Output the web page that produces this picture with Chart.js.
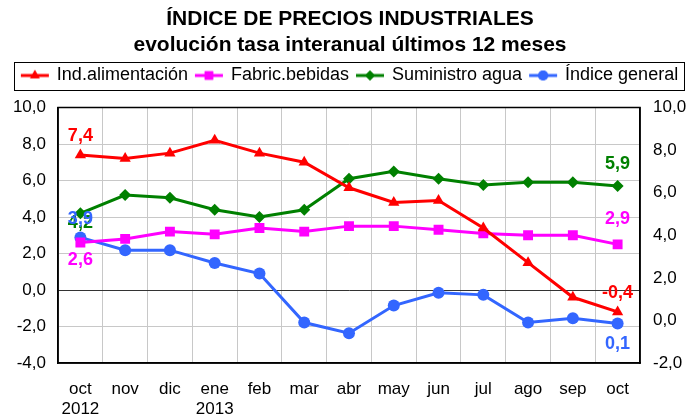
<!DOCTYPE html>
<html>
<head>
<meta charset="utf-8">
<script src="https://cdn.jsdelivr.net/npm/chart.js@4.4.0/dist/chart.umd.min.js"></script>
<style>
  html, body { margin: 0; padding: 0; background: #fff; }
  #wrap { width: 700px; height: 419px; }
</style>
</head>
<body>
<div id="wrap"><canvas id="ipri" width="700" height="419"></canvas></div>
<script>
const months = [['oct', '2012'], 'nov', 'dic', ['ene', '2013'], 'feb', 'mar', 'abr', 'may', 'jun', 'jul', 'ago', 'sep', 'oct'];
const seriesNames = ['Ind.alimentación', 'Fabric.bebidas', 'Suministro agua', 'Índice general'];
const alimentacion = [7.4, 7.2, 7.5, 8.2, 7.5, 7.0, 5.6, 4.8, 4.9, 3.4, 1.5, -0.4, -1.2];
const bebidas = [2.6, 2.8, 3.2, 3.05, 3.4, 3.2, 3.5, 3.5, 3.3, 3.1, 3.0, 3.0, 2.5];
const agua = [4.2, 5.2, 5.05, 4.4, 4.0, 4.4, 6.1, 6.5, 6.1, 5.75, 5.9, 5.9, 5.7];
const general = [3.9, 3.3, 3.3, 2.7, 2.2, -0.1, -0.6, 0.7, 1.3, 1.2, -0.1, 0.1, -0.15];
const firstLabels = ['7,4', '2,6', '4,2', '3,9'];
const lastLabels = ['-0,4', '2,9', '5,9', '0,1'];

const FONT = "'Liberation Sans', Arial, sans-serif";
const colors = ['#ff0000', '#ff00ff', '#008000', '#3366ff'];
const styles = ['triangle', 'rect', 'rectRot', 'circle'];
const radii = [6.5, 7, 6, 6];

// little line+marker pictures for the legend
function legendIcon(i) {
    const c = document.createElement('canvas');
    c.width = 30; c.height = 16;
    const g = c.getContext('2d');
    g.strokeStyle = colors[i];
    g.lineWidth = 3;
    g.beginPath(); g.moveTo(1, 8); g.lineTo(29, 8); g.stroke();
    g.fillStyle = colors[i];
    Chart.helpers.drawPoint(g, { pointStyle: styles[i], radius: radii[i] - 1, rotation: 0, borderWidth: 0 }, 15, 8);
    g.fill();
    return c;
}

// y offsets of the value labels (first point, last point)
const labelOffsets = [[-19, -19], [17, -25], [10, -22], [-18, 20]];

const valueLabels = {
    id: 'valueLabels',
    afterDatasetsDraw(chart) {
        const ctx = chart.ctx;
        ctx.save();
        ctx.font = 'bold 18px ' + FONT;
        ctx.textAlign = 'center';
        ctx.textBaseline = 'middle';
        chart.data.datasets.forEach((ds, i) => {
            const pts = chart.getDatasetMeta(i).data;
            const first = pts[0], last = pts[pts.length - 1];
            ctx.fillStyle = colors[i];
            ctx.fillText(firstLabels[i], first.x, first.y + labelOffsets[i][0]);
            ctx.fillText(lastLabels[i], last.x, last.y + labelOffsets[i][1]);
        });
        ctx.restore();
    }
};

const frame = {
    id: 'frame',
    beforeInit(chart) {
        // leave more room under the legend box
        const fit = chart.legend.fit;
        chart.legend.fit = function () {
            fit.call(this);
            this.height += 13;
        };
    },
    beforeDatasetsDraw(chart) {
        const a = chart.chartArea, ctx = chart.ctx;
        ctx.save();
        ctx.strokeStyle = '#000';
        ctx.lineWidth = 1.5;
        ctx.strokeRect(a.left, a.top, a.right - a.left, a.bottom - a.top);
        ctx.restore();
    },
    afterDraw(chart) {
        const boxes = chart.legend.legendHitBoxes;
        if (!boxes || !boxes.length) return;
        const left = Math.min(...boxes.map(b => b.left)) - 8;
        const right = Math.max(...boxes.map(b => b.left + b.width)) + 6;
        const top = boxes[0].top - 5;
        const h = boxes[0].height + 10;
        const ctx = chart.ctx;
        ctx.save();
        ctx.strokeStyle = '#000';
        ctx.lineWidth = 1;
        ctx.strokeRect(Math.round(left) + 0.5, Math.round(top) + 0.5, Math.round(right - left), Math.round(h));
        ctx.restore();
    }
};

const fmt = v => v.toFixed(1).replace('.', ',');

new Chart(document.getElementById('ipri'), {
    type: 'line',
    data: {
        labels: months,
        datasets: [alimentacion, bebidas, agua, general].map((d, i) => ({
            label: seriesNames[i],
            data: d,
            yAxisID: i === 3 ? 'y2' : 'y',
            borderColor: colors[i],
            backgroundColor: colors[i],
            borderWidth: 3,
            pointStyle: styles[i],
            pointRadius: radii[i],
            pointBorderWidth: 0,
            tension: 0
        }))
    },
    options: {
        responsive: false,
        animation: false,
        layout: { padding: { top: 0, bottom: 0, left: 0, right: 0 } },
        plugins: {
            title: {
                display: true,
                text: ['ÍNDICE DE PRECIOS INDUSTRIALES', 'evolución tasa interanual últimos 12 meses'],
                color: '#000',
                font: { family: FONT, size: 21, weight: 'bold', lineHeight: 1.25 },
                padding: { top: 6, bottom: 0 }
            },
            legend: {
                display: true,
                labels: {
                    color: '#000',
                    font: { family: FONT, size: 18 },
                    usePointStyle: true,
                    pointStyleWidth: 26,
                    padding: 8,
                    generateLabels: chart => chart.data.datasets.map((ds, i) => ({
                        text: ds.label,
                        pointStyle: legendIcon(i),
                        fillStyle: colors[i],
                        strokeStyle: colors[i],
                        lineWidth: 0,
                        datasetIndex: i
                    }))
                }
            },
            tooltip: { enabled: false }
        },
        scales: {
            x: {
                offset: true,
                grid: { offset: true, color: '#c8c8c8', lineWidth: 1, drawTicks: false },
                border: { display: true, color: '#000', width: 1.5 },
                ticks: { color: '#000', font: { family: FONT, size: 17 }, padding: 16, maxRotation: 0, autoSkip: false },
                afterFit: s => { s.height = 56; }
            },
            y: {
                position: 'left',
                min: -4, max: 10,
                grid: { color: c => c.tick.value === 0 ? '#333' : '#c8c8c8', lineWidth: 1, drawTicks: false },
                border: { display: true, color: '#000', width: 1.5 },
                ticks: { stepSize: 2, color: '#000', font: { family: FONT, size: 17 }, padding: 12, callback: fmt },
                afterFit: s => { s.width = 58; }
            },
            y2: {
                position: 'right',
                min: -2, max: 10,
                grid: { drawOnChartArea: false, drawTicks: false },
                border: { display: true, color: '#000', width: 1.5 },
                ticks: { stepSize: 2, color: '#000', font: { family: FONT, size: 17 }, padding: 13, callback: fmt },
                afterFit: s => { s.width = 60; }
            }
        }
    },
    plugins: [valueLabels, frame]
});
</script>
</body>
</html>
